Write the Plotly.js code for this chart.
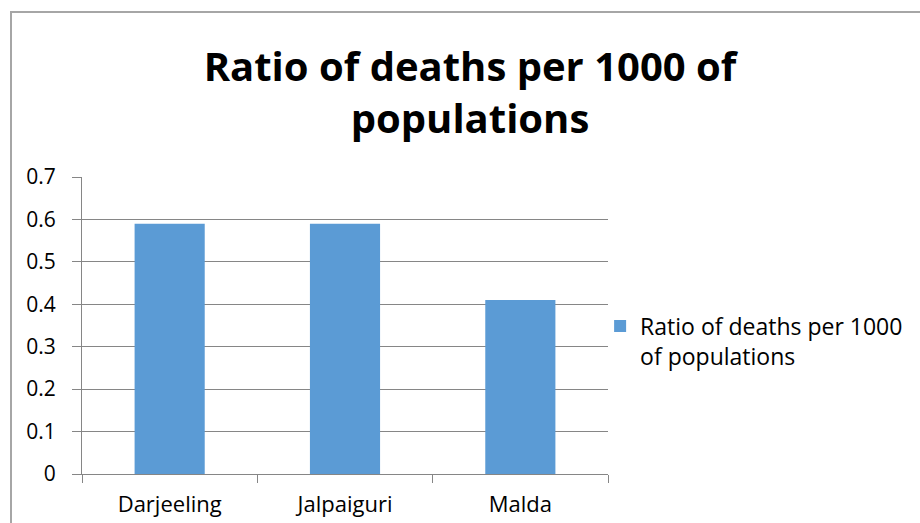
<!DOCTYPE html>
<html><head><meta charset="utf-8">
<script src="https://cdn.plot.ly/plotly-3.0.1.min.js"></script>
<style>
html,body{margin:0;padding:0;background:#fff;overflow:hidden;}
#chart{width:920px;height:523px;}
#frame{position:absolute;left:10px;top:11px;width:1000px;height:600px;border-left:2px solid #a6a6a6;border-top:2px solid #a6a6a6;pointer-events:none;}
</style></head>
<body>
<div id="chart"></div>
<div id="frame"></div>
<script>
const categories = ["Darjeeling", "Jalpaiguri", "Malda"];
const values = [0.59, 0.59, 0.41];
const seriesName = "Ratio of deaths per 1000<br>of populations";
const yTicks = [0, 0.1, 0.2, 0.3, 0.4, 0.5, 0.6, 0.7];
const yTickLabels = ["0", "0.1", "0.2", "0.3", "0.4", "0.5", "0.6", "0.7"];

const FONT = "'Open Sans', Lato, sans-serif";
const trace = {
  type: "bar", x: categories, y: values, name: seriesName,
  marker: {color: "#5B9BD5"}, showlegend: true
};
const layout = {
  width: 920, height: 523,
  margin: {l: 82, r: 312, t: 177, b: 48.5, pad: 0},
  paper_bgcolor: "#fff", plot_bgcolor: "#fff",
  bargap: 0.6,
  font: {family: FONT, color: "#000", size: 21},
  title: {text: "<b>Ratio of deaths per 1000 of<br>populations</b>", x: 470/920, xanchor: "center",
          yref: "container", y: 1 - 81/523, yanchor: "top",
          font: {family: FONT, size: 40, color: "#000"}},
  xaxis: {type: "category", showline: true, linecolor: "#868686", linewidth: 1,
          ticks: "outside", tickson: "boundaries", ticklen: 8, tickcolor: "#868686",
          showgrid: false, tickfont: {size: 22}, ticklabelstandoff: 11, fixedrange: true},
  yaxis: {range: [0, 0.7], tickvals: yTicks, ticktext: yTickLabels, showline: true,
          linecolor: "#868686", linewidth: 1, ticks: "outside", ticklen: 9, tickcolor: "#868686",
          gridcolor: "#868686", gridwidth: 1, zeroline: false, tickfont: {size: 21},
          ticklabelstandoff: 12, fixedrange: true},
  legend: {x: 0.985, xanchor: "left", y: 0.448, yanchor: "middle", valign: "top",
           font: {size: 23}, bgcolor: "rgba(0,0,0,0)"}
};
Plotly.newPlot("chart", [trace], layout, {displayModeBar: false, staticPlot: true});
</script>
</body></html>
